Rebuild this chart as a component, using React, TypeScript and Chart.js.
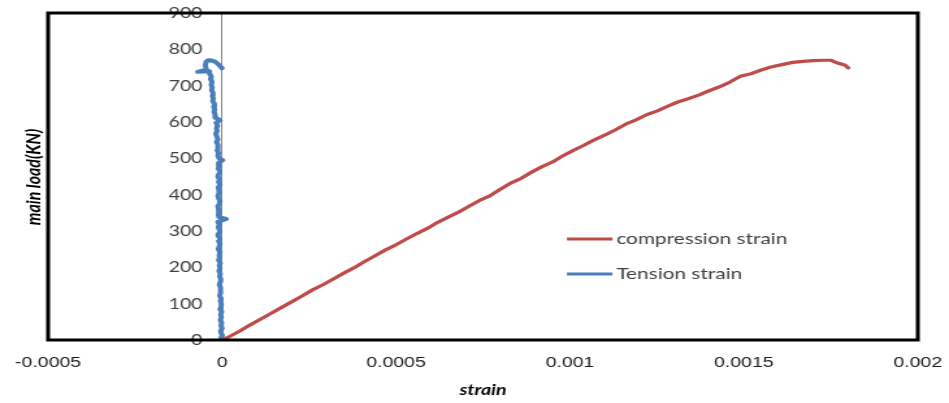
import { useEffect, useRef } from "react";
import { Chart, registerables } from "chart.js";

Chart.register(...registerables);

// Compression gauge: strain and main load (kN)
const compressionStrain = [
  0.000005, 0.00002, 0.00005, 0.00008, 0.00011, 0.00014, 0.00017, 0.0002, 0.00023, 0.00026,
  0.00029, 0.00032, 0.00035, 0.00038, 0.00041, 0.00044, 0.00047, 0.0005, 0.00053, 0.00056,
  0.00059, 0.00062, 0.00065, 0.00068, 0.00071, 0.00074, 0.00077, 0.0008, 0.00083, 0.00086,
  0.00089, 0.00092, 0.00095, 0.00098, 0.00101, 0.00104, 0.00107, 0.0011, 0.00113, 0.00116,
  0.00119, 0.00122, 0.00125, 0.00128, 0.00131, 0.00134, 0.00137, 0.0014, 0.00143, 0.00146,
  0.00149, 0.00152, 0.00155, 0.00158, 0.00161, 0.00164, 0.00167, 0.0017, 0.00173, 0.00175,
  0.00177, 0.00179, 0.0018,
];
const compressionLoad = [
  2, 9, 24, 41, 57, 73, 89, 105, 121, 138,
  152, 168, 184, 199, 216, 232, 248, 262, 278, 293,
  307, 324, 338, 352, 368, 384, 397, 415, 432, 445,
  462, 477, 490, 507, 522, 536, 551, 564, 578, 594,
  606, 620, 630, 643, 655, 664, 674, 686, 697, 710,
  726, 733, 743, 752, 758, 764, 767, 769, 770, 770,
  762, 757, 749,
];

// Tension gauge: readings in microstrain and main load (kN)
const tensionMicrostrain = [
  0, -3, 1, -2, -4, 0, -3, -1, -5, -2,
  -4, -1, -6, -3, -2, -5, -3, -7, -4, -6,
  -3, -8, -5, -4, -7, -5, -9, -6, -8, -5,
  -10, -7, -9, -6, -11, -8, -6, -10, -7, -12,
  -9, -7, -11, -8, -12, 12, -9, -11, -7, -10,
  -12, -8, -6, -10, -12, -7, -9, -11, -6, -10,
  -8, -12, -9, -7, -11, -8, -10, 2, -9, -12,
  -10, -14, -11, -13, -16, -12, -15, -18, -14, -16,
  -13, -17, -6, -19, -20, -23, -21, -24, -22, -27,
  -25, -28, -26, -30, -28, -31, -29, -33, -31, -35,
  -36, -70, -45, -48, -46, -40, -30, -22, -12, -4,
  0,
];
const tensionLoad = [
  0, 6, 12, 18, 25, 32, 40, 47, 55, 62,
  70, 78, 85, 92, 100, 108, 115, 122, 130, 138,
  145, 152, 160, 168, 175, 182, 190, 198, 205, 212,
  220, 228, 235, 242, 250, 258, 265, 272, 280, 288,
  295, 302, 310, 318, 325, 333, 338, 345, 352, 360,
  368, 375, 382, 390, 398, 405, 412, 420, 428, 435,
  442, 450, 458, 465, 472, 480, 488, 495, 500, 508,
  515, 522, 530, 538, 545, 552, 560, 568, 575, 582,
  590, 598, 605, 612, 620, 628, 635, 642, 650, 658,
  665, 672, 680, 688, 695, 702, 710, 718, 725, 732,
  740, 738, 744, 755, 766, 770, 769, 767, 760, 752,
  748,
];

const seriesNames = ["compression strain", "Tension strain"];
const seriesColors = ["#BE4B48", "#4A7EBB"];

const xTickValues = [-0.0005, 0, 0.0005, 0.001, 0.0015, 0.002];
const xTickLabels = ["-0.0005", "0", "0.0005", "0.001", "0.0015", "0.002"];
const yTickValues = [0, 100, 200, 300, 400, 500, 600, 700, 800, 900];
const yTickLabels = ["0", "100", "200", "300", "400", "500", "600", "700", "800", "900"];

const xTitle = "strain";
const yTitle = "main load(KN)";

// drawing surface is laid out narrow and widened on screen
const CANVAS_W = 730;
const CANVAS_H = 403;

// value labels for the load axis, set just left of the zero-strain line
const loadLabelsPlugin = {
  id: "loadLabels",
  afterDatasetsDraw(chart: any) {
    const { ctx } = chart;
    const xs = chart.scales.x;
    const ys = chart.scales.y;
    const x0 = xs.getPixelForValue(0) - 15;
    ctx.save();
    ctx.fillStyle = "#404040";
    ctx.font = "15px Lato";
    ctx.textAlign = "right";
    ctx.textBaseline = "middle";
    yTickValues.forEach((v, i) => {
      ctx.fillText(yTickLabels[i], x0, ys.getPixelForValue(v));
    });
    ctx.restore();
  },
};

const framePlugin = {
  id: "frame",
  afterDraw(chart: any) {
    const { ctx, chartArea: a } = chart;
    const w = a.right - a.left;
    const h = a.bottom - a.top;
    ctx.save();

    // heavy box round the plot
    ctx.strokeStyle = "#000";
    ctx.lineWidth = 3;
    ctx.strokeRect(a.left, a.top, w, h);

    // vertical axis title
    ctx.save();
    ctx.translate(26, 177);
    ctx.rotate(-Math.PI / 2);
    ctx.fillStyle = "#000";
    ctx.font = "italic bold 16px Lato";
    ctx.textAlign = "center";
    ctx.textBaseline = "middle";
    ctx.fillText(yTitle, 0, 0);
    ctx.restore();

    // legend inside the plot
    const lx = a.left + 0.5966 * w;
    const lineLen = 35;
    const rows = [a.top + 0.691 * h, a.top + 0.798 * h];
    chart.data.datasets.forEach((ds: any, i: number) => {
      const y = rows[i];
      ctx.strokeStyle = ds.borderColor;
      ctx.lineWidth = 3;
      ctx.beginPath();
      ctx.moveTo(lx, y);
      ctx.lineTo(lx + lineLen, y);
      ctx.stroke();
      ctx.fillStyle = "#404040";
      ctx.font = "16px Lato";
      ctx.textAlign = "left";
      ctx.textBaseline = "middle";
      ctx.fillText(ds.label, lx + lineLen + 3, y);
    });
    ctx.restore();
  },
};

export default function App() {
  const canvasRef = useRef<HTMLCanvasElement | null>(null);

  useEffect(() => {
    const canvas = canvasRef.current;
    if (!canvas) return;

    const compression = compressionStrain.map((x, i) => ({ x, y: compressionLoad[i] }));
    const tension = tensionMicrostrain.map((m, i) => ({ x: m / 1e6, y: tensionLoad[i] }));

    const chart = new Chart(canvas, {
      type: "scatter",
      data: {
        datasets: [
          {
            label: seriesNames[0],
            data: compression,
            showLine: true,
            borderColor: seriesColors[0],
            backgroundColor: seriesColors[0],
            borderWidth: 3.2,
            borderJoinStyle: "round",
            borderCapStyle: "round",
            pointRadius: 0,
            tension: 0,
          },
          {
            label: seriesNames[1],
            data: tension,
            showLine: true,
            borderColor: seriesColors[1],
            backgroundColor: seriesColors[1],
            borderWidth: 4,
            borderJoinStyle: "round",
            borderCapStyle: "round",
            pointRadius: 0,
            tension: 0,
          },
        ],
      },
      options: {
        animation: false,
        responsive: false,
        devicePixelRatio: 1,
        layout: { padding: { left: 37, right: 24, top: 13, bottom: 0 } },
        plugins: {
          legend: { display: false },
          tooltip: { enabled: false },
        },
        scales: {
          x: {
            type: "linear",
            min: -0.0005,
            max: 0.002,
            position: "bottom",
            grid: { display: false, drawTicks: false },
            border: { display: false },
            afterBuildTicks: (s: any) => {
              s.ticks = xTickValues.map((v) => ({ value: v }));
            },
            afterFit: (s: any) => {
              s.height = 63;
              s.paddingLeft = 0;
              s.paddingRight = 0;
            },
            ticks: {
              autoSkip: false,
              maxRotation: 0,
              padding: 14,
              color: "#1a1a1a",
              font: { family: "'Liberation Sans', Arial, sans-serif", size: 15 },
              callback: (_v: any, i: number) => xTickLabels[i],
            },
            title: {
              display: true,
              text: xTitle,
              color: "#000",
              font: { family: "Lato", size: 15, style: "italic", weight: "bold" },
              padding: { top: 0, bottom: 4 },
            },
          },
          y: {
            type: "linear",
            min: 0,
            max: 900,
            position: { x: 0 } as any,
            grid: { display: false, drawTicks: false },
            border: { display: true, color: "#868686", width: 1 },
            afterBuildTicks: (s: any) => {
              s.ticks = yTickValues.map((v) => ({ value: v }));
            },
            ticks: { display: false },
          },
        },
      },
      plugins: [loadLabelsPlugin, framePlugin],
    });

    return () => {
      chart.destroy();
    };
  }, []);

  return (
    <div style={{ position: "fixed", left: 0, top: 0, width: 949, height: 403, background: "#fff" }}>
      <canvas
        ref={canvasRef}
        width={CANVAS_W}
        height={CANVAS_H}
        style={{ width: "949px", height: "403px", display: "block" }}
      />
    </div>
  );
}
